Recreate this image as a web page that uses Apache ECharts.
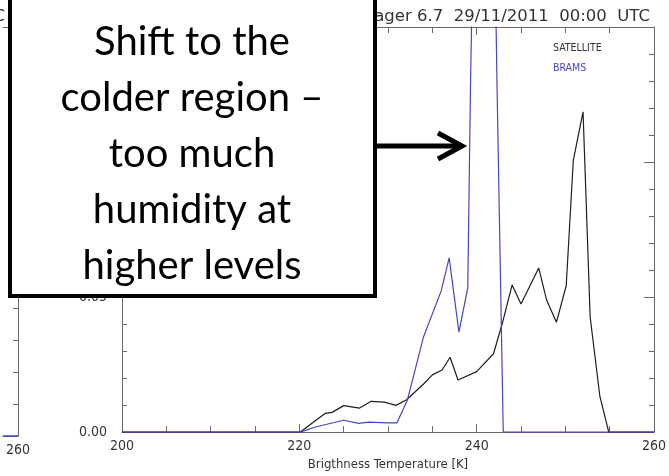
<!DOCTYPE html>
<html>
<head>
<meta charset="utf-8">
<script src="https://cdn.jsdelivr.net/npm/echarts@6/dist/echarts.min.js"></script>
<style>
html,body{margin:0;padding:0;background:#fff;}
#chart{width:669px;height:476px;}
</style>
</head>
<body>
<div id="chart"></div>
<script>
// ---- data ----
const satelliteT = [200, 220.1, 222.9, 223.7, 225.0, 226.8, 228.1, 229.6, 230.9, 232.1, 234.1, 235.0, 236.1, 237.0, 237.9, 240.0, 241.9, 242.9, 244.0, 245.0, 247.0, 247.9, 249.0, 250.1, 250.9, 252.0, 252.8, 253.9, 254.9, 260];
const satelliteV = [0, 0, 0.0069, 0.0073, 0.0098, 0.0089, 0.0114, 0.0111, 0.0099, 0.0120, 0.0181, 0.0212, 0.0230, 0.0277, 0.0193, 0.0224, 0.0290, 0.0403, 0.0545, 0.0474, 0.0608, 0.0488, 0.0407, 0.0542, 0.1006, 0.1186, 0.0426, 0.0132, 0, 0];
const bramsT = [200, 220.1, 221.8, 225.0, 226.7, 227.8, 230.0, 231.0, 232.2, 234.0, 236.0, 236.9, 238.0, 239.0, 239.3, 240.0, 241.0, 242.0, 242.3, 243.0, 260];
const bramsV = [0, 0, 0.0019, 0.0044, 0.0032, 0.0037, 0.0034, 0.0034, 0.0120, 0.0352, 0.0523, 0.0645, 0.0370, 0.0535, 0.127, 0.26, 0.24, 0.19, 0.128, 0, 0];
// neighbouring (mostly hidden) panel: only its right end is visible
const leftPanelT = [258, 260];
const leftPanelV = [0, 0];
const xTicks = {min: 200, max: 260, step: 20};
const yTicks = {min: 0, max: 0.15, step: 0.05};
const titleText = 'Imager 6.7  29/11/2011  00:00  UTC';
const leftTitleText = '00:00  UTC';
const xName = 'Brigthness Temperature [K]';
const seriesNames = ['SATELLITE', 'BRAMS'];
const noteLines = ['Shift to the', 'colder region \u2013', 'too much', 'humidity at', 'higher levels'];

const pairs = (t, v) => t.map((x, i) => [x, v[i]]);

const AX = '#6a6a6a';
const BLUE = '#4646c0';
const BLACK = '#1e1e1e';
const FONT = '"DejaVu Sans Condensed", "DejaVu Sans", sans-serif';

function xAxisDef(pos, labels) {
  return {
    type: 'value', gridIndex: 0, position: pos,
    min: xTicks.min, max: xTicks.max, interval: xTicks.step,
    axisLine: {show: true, onZero: false, lineStyle: {color: AX, width: 1}},
    axisTick: {show: true, inside: true, length: 8, lineStyle: {color: AX}},
    minorTick: {show: true, splitNumber: 4, length: 6, lineStyle: {color: AX}},
    splitLine: {show: false},
    axisLabel: {show: labels, margin: 7, fontFamily: FONT, fontSize: 14, color: '#333'},
    name: labels ? xName : '',
    nameLocation: 'middle', nameGap: 22,
    nameTextStyle: {fontFamily: FONT, fontSize: 13, color: '#333'}
  };
}
function yAxisDef(grid, pos, labels, max, lineShow) {
  return {
    type: 'value', gridIndex: grid, position: pos,
    min: yTicks.min, max: max, interval: yTicks.step,
    axisLine: {show: lineShow, onZero: false, lineStyle: {color: AX, width: 1}},
    axisTick: {show: lineShow, inside: true, length: 10, lineStyle: {color: AX}},
    minorTick: {show: lineShow, splitNumber: 5, length: 5, lineStyle: {color: AX}},
    splitLine: {show: false},
    axisLabel: {show: labels, margin: 15, fontFamily: FONT, fontSize: 14, color: '#333',
      formatter: v => v.toFixed(2)}
  };
}
function leftXAxis(pos, labels) {
  return {
    type: 'value', gridIndex: 1, position: pos, min: leftPanelT[0], max: leftPanelT[1], interval: 2,
    axisLine: {show: true, onZero: false, lineStyle: {color: AX, width: 1}},
    axisTick: {show: false}, minorTick: {show: false}, splitLine: {show: false},
    axisLabel: {show: labels, margin: 7, fontFamily: FONT, fontSize: 14, color: '#333',
      formatter: v => (v === 260 ? '260' : '')}
  };
}

const chart = echarts.init(document.getElementById('chart'), null, {renderer: 'canvas'});
const tStyle = {fontFamily: '"DejaVu Sans", sans-serif', fontSize: 16.5, fontWeight: 'normal', color: '#333'};
chart.setOption({
  animation: false,
  backgroundColor: '#fff',
  title: [
    {text: titleText, right: 14, top: 3, textStyle: tStyle},
    {text: leftTitleText, right: 659, top: 3, textStyle: tStyle}
  ],
  legend: {
    orient: 'vertical', left: 543, top: 38, icon: 'none', itemWidth: 0, itemHeight: 10, itemGap: 9,
    selectedMode: false,
    textStyle: {fontFamily: FONT, fontSize: 10.5},
    data: [
      {name: seriesNames[0], textStyle: {color: '#333'}},
      {name: seriesNames[1], textStyle: {color: BLUE}}
    ]
  },
  grid: [
    {left: 122, top: 27, width: 536, height: 409},
    {left: 0, top: 27, width: 18, height: 409}
  ],
  xAxis: [
    xAxisDef('bottom', true), xAxisDef('top', false),
    leftXAxis('bottom', true), leftXAxis('top', false)
  ],
  yAxis: [
    yAxisDef(0, 'left', true, yTicks.max, true), yAxisDef(0, 'right', false, yTicks.max, true),
    yAxisDef(1, 'left', false, 0.128, false), yAxisDef(1, 'right', false, 0.128, true)
  ],
  series: [
    {name: seriesNames[0], type: 'line', xAxisIndex: 0, yAxisIndex: 0, data: pairs(satelliteT, satelliteV),
      showSymbol: false, symbol: 'none', lineStyle: {color: BLACK, width: 1.2}, itemStyle: {color: BLACK}, clip: true, z: 2},
    {name: seriesNames[1], type: 'line', xAxisIndex: 0, yAxisIndex: 0, data: pairs(bramsT, bramsV),
      showSymbol: false, symbol: 'none', lineStyle: {color: BLUE, width: 1.2}, itemStyle: {color: BLUE}, clip: true, z: 3},
    {name: 'left', type: 'line', xAxisIndex: 2, yAxisIndex: 2, data: pairs(leftPanelT, leftPanelV),
      showSymbol: false, symbol: 'none', lineStyle: {color: BLUE, width: 1.5}, clip: false, z: 3}
  ],
  graphic: [
    {type: 'rect', z: 100, shape: {x: 10, y: -10, width: 365, height: 306},
      style: {fill: '#fff', stroke: '#000', lineWidth: 4}},
    {type: 'text', z: 101, x: 192, y: 14,
      style: {text: noteLines.join('\n'), font: '40px Lato, "Open Sans", sans-serif', fill: '#000',
        textAlign: 'center', verticalAlign: 'top', textVerticalAlign: 'top', lineHeight: 56}},
    {type: 'line', z: 100, shape: {x1: 377, y1: 146, x2: 460, y2: 146},
      style: {stroke: '#000', lineWidth: 5}},
    {type: 'polyline', z: 100, shape: {points: [[438, 133], [462, 146], [438, 159]]},
      style: {stroke: '#000', lineWidth: 5, fill: null, lineJoin: 'miter'}}
  ]
});
</script>
</body>
</html>
